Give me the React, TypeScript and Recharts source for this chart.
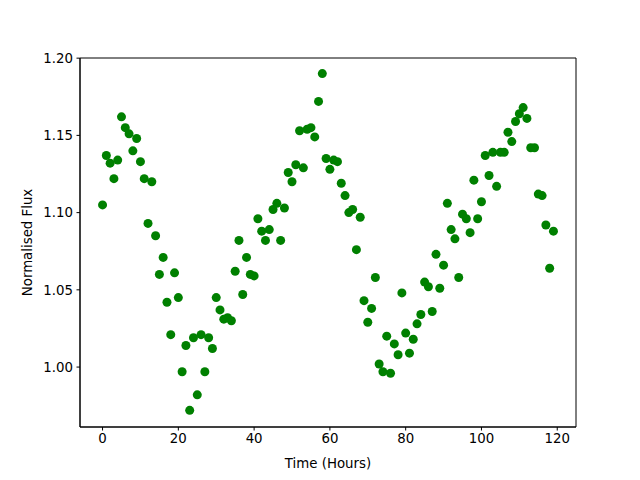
import { Label, ReferenceArea, Scatter, ScatterChart, XAxis, YAxis } from 'recharts'

const hours = Array.from({ length: 120 }, (_, i) => i)

const flux = [
  1.105, 1.137, 1.132, 1.122, 1.134, 1.162, 1.155, 1.151, 1.14, 1.148,
  1.133, 1.122, 1.093, 1.12, 1.085, 1.06, 1.071, 1.042, 1.021, 1.061,
  1.045, 0.997, 1.014, 0.972, 1.019, 0.982, 1.021, 0.997, 1.019, 1.012,
  1.045, 1.037, 1.031, 1.032, 1.03, 1.062, 1.082, 1.047, 1.071, 1.06,
  1.059, 1.096, 1.088, 1.082, 1.089, 1.102, 1.106, 1.082, 1.103, 1.126,
  1.12, 1.131, 1.153, 1.129, 1.154, 1.155, 1.149, 1.172, 1.19, 1.135,
  1.128, 1.134, 1.133, 1.119, 1.111, 1.1, 1.102, 1.076, 1.097, 1.043,
  1.029, 1.038, 1.058, 1.002, 0.997, 1.02, 0.996, 1.015, 1.008, 1.048,
  1.022, 1.009, 1.018, 1.028, 1.034, 1.055, 1.052, 1.036, 1.073, 1.051,
  1.066, 1.106, 1.089, 1.083, 1.058, 1.099, 1.096, 1.087, 1.121, 1.096,
  1.107, 1.137, 1.124, 1.139, 1.117, 1.139, 1.139, 1.152, 1.146, 1.159,
  1.164, 1.168, 1.161, 1.142, 1.142, 1.112, 1.111, 1.092, 1.064, 1.088,
]

const xTicks = [0, 20, 40, 60, 80, 100, 120]
const yTicks = [1.0, 1.05, 1.1, 1.15, 1.2]
const xDomain = [-5.95, 124.95]
const yDomain = [0.9612, 1.2001]

const points = hours.map((h, i) => ({ hour: h, flux: flux[i] }))

const font = { fontFamily: 'DejaVu Sans', fontSize: 13.33, fill: '#000' }

const axisProps = {
  stroke: '#000',
  tick: font,
  tickSize: 3.5,
  tickMargin: 3.5,
} as const

export default function App() {
  return (
    <div style={{ position: 'absolute', left: 0, top: 0, background: '#fff' }}>
      <ScatterChart width={640} height={480} margin={{ top: 58, right: 64, bottom: 0, left: 0 }}>
        <XAxis
          type="number"
          dataKey="hour"
          domain={xDomain}
          ticks={xTicks}
          height={53}
          allowDataOverflow
          {...axisProps}
        >
          <Label value="Time (Hours)" position="insideBottom" offset={12} style={font} />
        </XAxis>
        <YAxis
          type="number"
          dataKey="flux"
          domain={yDomain}
          ticks={yTicks}
          width={80}
          allowDataOverflow
          tickFormatter={(v: number) => v.toFixed(2)}
          {...axisProps}
        >
          <Label
            value="Normalised Flux"
            angle={-90}
            position="insideLeft"
            offset={27}
            style={{ ...font, textAnchor: 'middle' }}
          />
        </YAxis>
        <ReferenceArea
          x1={xDomain[0]}
          x2={xDomain[1]}
          y1={yDomain[0]}
          y2={yDomain[1]}
          fill="none"
          stroke="#000"
          strokeWidth={1}
          ifOverflow="visible"
        />
        <Scatter
          data={points}
          isAnimationActive={false}
          shape={(p: any) => <circle cx={p.cx} cy={p.cy} r={4.5} fill="#008000" />}
        />
      </ScatterChart>
    </div>
  )
}
